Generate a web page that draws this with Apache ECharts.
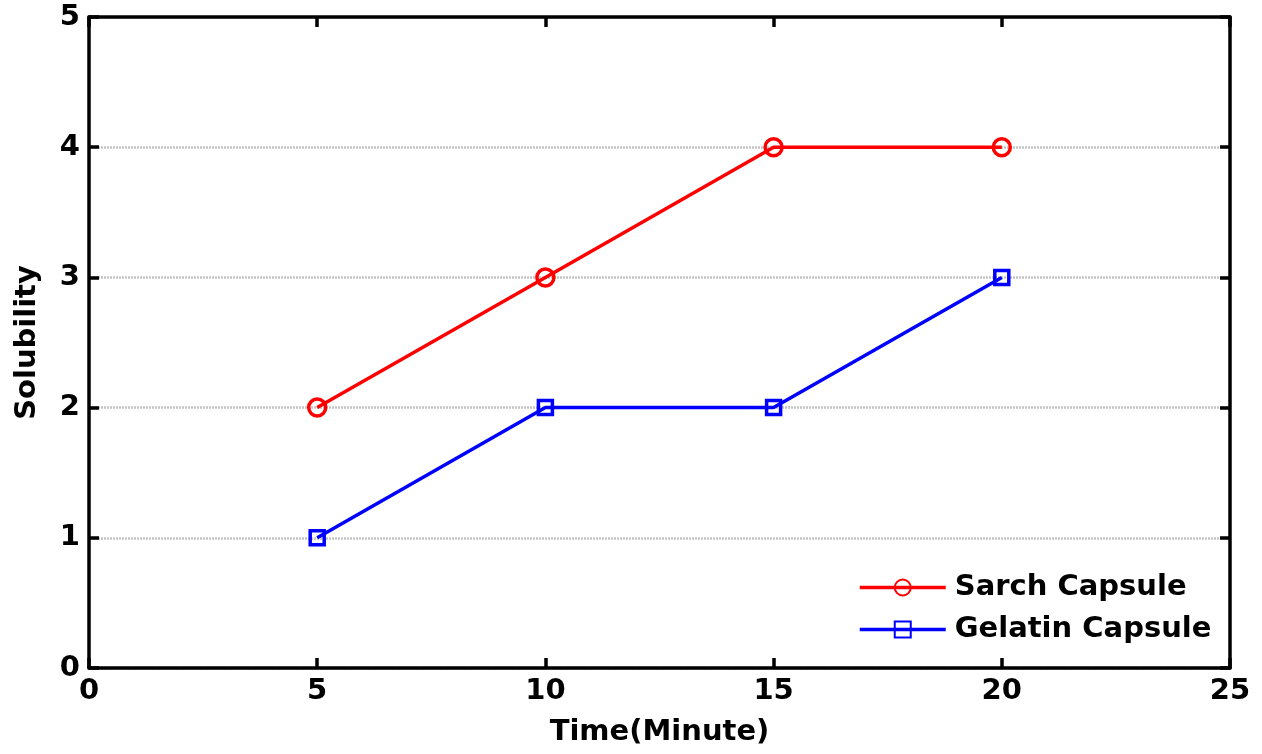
<!DOCTYPE html>
<html>
<head>
<meta charset="utf-8">
<script src="https://cdn.jsdelivr.net/npm/echarts@6/dist/echarts.min.js"></script>
<style>
  html, body { margin: 0; padding: 0; background: #fff; }
  #chart { width: 1262px; height: 754px; }
</style>
</head>
<body>
<div id="chart"></div>
<script>
// 数据
const timePoints = [5, 10, 15, 20];
const sarchValues = [2, 3, 4, 4];
const gelatinValues = [1, 2, 2, 3];
const seriesNames = ['Sarch Capsule', 'Gelatin Capsule'];

const FONT = 'DejaVu Sans';

function pairs(xs, ys) {
  return xs.map((x, i) => [x, ys[i]]);
}

const chart = echarts.init(document.getElementById('chart'));

const boxAxisLine = { show: true, onZero: false, lineStyle: { color: '#000', width: 3.5 } };
const boxTick = { show: true, inside: true, length: 10, lineStyle: { color: '#000', width: 3.5 } };

const option = {
  backgroundColor: '#fff',
  animation: false,
  grid: { left: 89, right: 32, top: 17, bottom: 86 },
  legend: {
    data: seriesNames,
    orient: 'vertical',
    left: 853,
    top: 568,
    itemWidth: 86,
    itemHeight: 20,
    itemGap: 13,
    lineStyle: { width: 3.5 },
    textStyle: {
      fontFamily: FONT, fontWeight: 'bold', fontSize: 29, color: '#000',
      padding: [0, 0, 0, 4]
    }
  },
  xAxis: [
    {
      type: 'value', min: 0, max: 25, interval: 5,
      name: 'Time(Minute)', nameLocation: 'middle', nameGap: 50,
      nameTextStyle: { fontFamily: FONT, fontWeight: 'bold', fontSize: 29, color: '#000' },
      axisLine: boxAxisLine, axisTick: boxTick,
      axisLabel: { fontFamily: FONT, fontWeight: 'bold', fontSize: 29, color: '#000', margin: 9 },
      splitLine: { show: false }
    },
    {
      type: 'value', min: 0, max: 25, interval: 5, position: 'top',
      axisLine: boxAxisLine, axisTick: boxTick,
      axisLabel: { show: false }, splitLine: { show: false }
    }
  ],
  yAxis: [
    {
      type: 'value', min: 0, max: 5, interval: 1,
      name: 'Solubility', nameLocation: 'middle', nameGap: 47,
      nameTextStyle: { fontFamily: FONT, fontWeight: 'bold', fontSize: 29, color: '#000' },
      axisLine: boxAxisLine, axisTick: boxTick,
      axisLabel: { fontFamily: FONT, fontWeight: 'bold', fontSize: 29, color: '#000', margin: 9 },
      splitLine: { show: true, lineStyle: { color: '#c4c4c4', width: 2.5, type: [2, 1] } }
    },
    {
      type: 'value', min: 0, max: 5, interval: 1, position: 'right',
      axisLine: boxAxisLine, axisTick: boxTick,
      axisLabel: { show: false }, splitLine: { show: false }
    }
  ],
  series: [
    {
      name: seriesNames[0],
      type: 'line',
      data: pairs(timePoints, sarchValues),
      symbol: 'circle',
      symbolSize: 17,
      lineStyle: { color: '#ff0000', width: 3.5 },
      itemStyle: { color: 'rgba(0,0,0,0)', borderColor: '#ff0000', borderWidth: 3.5 },
      z: 3
    },
    {
      name: seriesNames[1],
      type: 'line',
      data: pairs(timePoints, gelatinValues),
      symbol: 'rect',
      symbolSize: 14,
      lineStyle: { color: '#0000ff', width: 3.5 },
      itemStyle: { color: 'rgba(0,0,0,0)', borderColor: '#0000ff', borderWidth: 3.5 },
      z: 3
    }
  ]
};

chart.setOption(option);
</script>
</body>
</html>
